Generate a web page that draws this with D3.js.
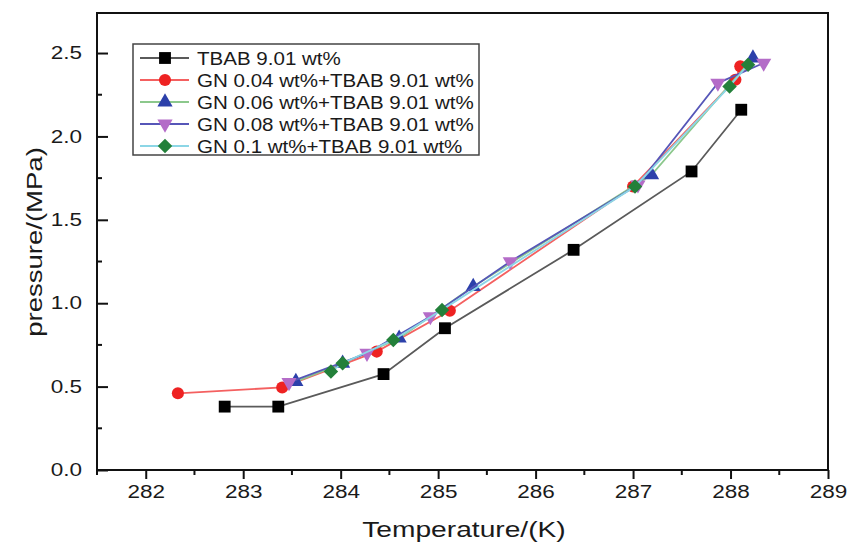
<!DOCTYPE html>
<html><head><meta charset="utf-8">
<script src="https://cdn.jsdelivr.net/npm/d3@7"></script>
<style>body{margin:0;background:#fff}svg{display:block}text{font-family:"Liberation Sans",Arial,sans-serif;fill:#1a1a1a}</style>
</head><body><svg id="c" width="848" height="546"></svg>
<script>
// ---- data ----
const seriesNames = ["TBAB 9.01 wt%","GN 0.04 wt%+TBAB 9.01 wt%","GN 0.06 wt%+TBAB 9.01 wt%","GN 0.08 wt%+TBAB 9.01 wt%","GN 0.1 wt%+TBAB 9.01 wt%"];
const tbabT  = [282.81,283.36,284.44,285.07,286.39,287.60,288.11];
const tbabP  = [0.38,0.38,0.575,0.85,1.32,1.79,2.16];
const gn004T = [282.33,283.40,284.37,285.12,287.00,288.05,288.10];
const gn004P = [0.46,0.495,0.71,0.955,1.70,2.34,2.42];
const gn006T = [283.54,284.02,284.60,285.36,287.19,288.23];
const gn006P = [0.53,0.64,0.79,1.10,1.77,2.47];
const gn008T = [283.47,284.27,284.92,285.74,287.05,287.87,288.34];
const gn008P = [0.525,0.70,0.92,1.25,1.71,2.32,2.44];
const gn01T  = [283.90,284.02,284.54,285.04,287.02,287.99,288.18];
const gn01P  = [0.59,0.64,0.78,0.96,1.70,2.30,2.43];
const xTicks = [282,283,284,285,286,287,288,289];
const yTicks = [0.0,0.5,1.0,1.5,2.0,2.5];
const xLabel = "Temperature/(K)";
const yLabel = "pressure/(MPa)";

// ---- styles ----
const styles = [
  {line:"#5a5a5a", fill:"#000000", shape:"square"},
  {line:"#f46060", fill:"#ee2222", shape:"circle"},
  {line:"#8cc88c", fill:"#2c40aa", shape:"triangle"},
  {line:"#5656b8", fill:"#b46cc8", shape:"triangleDown"},
  {line:"#8cd6e6", fill:"#23803a", shape:"diamond"}
];
const seriesT = [tbabT,gn004T,gn006T,gn008T,gn01T];
const seriesP = [tbabP,gn004P,gn006P,gn008P,gn01P];

const svg = d3.select("#c");
const L=97,R=828,T=13,B=470;
const x = d3.scaleLinear().domain([281.5,289]).range([L,R]);
const y = d3.scaleLinear().domain([0,2.74]).range([B,T]);

function fit(sel,f){sel.each(function(){const l=this.getComputedTextLength();d3.select(this).attr("textLength",l*f).attr("lengthAdjust","spacingAndGlyphs");});}

function symPath(shape){
  if(shape==="square") return {d:d3.symbol(d3.symbolSquare,140)(), rot:0};
  if(shape==="circle") return {d:d3.symbol(d3.symbolCircle,115)(), rot:0};
  if(shape==="triangle") return {d:d3.symbol(d3.symbolTriangle,100)(), rot:0};
  if(shape==="triangleDown") return {d:d3.symbol(d3.symbolTriangle,100)(), rot:180};
  return {d:d3.symbol(d3.symbolSquare,105)(), rot:45};
}

// axes frame
const xAxis = d3.axisBottom(x).tickValues(xTicks).tickFormat(d3.format("d")).tickSize(9).tickPadding(6);
const gx = svg.append("g").attr("transform",`translate(0,${B})`).call(xAxis);
gx.select(".domain").remove();
gx.selectAll(".tick line").attr("stroke","#111").attr("stroke-width",2);
gx.selectAll(".tick text").attr("font-size",18).attr("fill","#1a1a1a").attr("font-family","Liberation Sans").call(fit,1.25);
// minor x
svg.append("g").selectAll("line").data(d3.range(281.5,289,1)).join("line")
  .attr("x1",d=>x(d)).attr("x2",d=>x(d)).attr("y1",B).attr("y2",B+5).attr("stroke","#111").attr("stroke-width",2);

const yAxis = d3.axisLeft(y).tickValues(yTicks).tickFormat(d3.format(".1f")).tickSize(-11).tickPadding(15);
const gy = svg.append("g").attr("transform",`translate(${L},0)`).call(yAxis);
gy.select(".domain").remove();
gy.selectAll(".tick line").attr("stroke","#111").attr("stroke-width",2);
gy.selectAll(".tick text").attr("font-size",18).attr("fill","#1a1a1a").attr("font-family","Liberation Sans").call(fit,1.25);
svg.append("g").selectAll("line").data(d3.range(0.25,2.74,0.5)).join("line")
  .attr("x1",L).attr("x2",L+5).attr("y1",d=>y(d)).attr("y2",d=>y(d)).attr("stroke","#111").attr("stroke-width",2);

svg.append("rect").attr("x",L).attr("y",T).attr("width",R-L).attr("height",B-T)
  .attr("fill","none").attr("stroke","#111").attr("stroke-width",2);

// titles
svg.append("text").attr("x",464).attr("y",537).attr("text-anchor","middle").attr("font-size",22).text(xLabel).call(fit,1.28);
svg.append("text").attr("transform","translate(42,242) rotate(-90)").attr("text-anchor","middle").attr("font-size",21.5).text(yLabel).call(fit,1.28);

// series
const line = d3.line().x(d=>x(d[0])).y(d=>y(d[1]));
seriesT.forEach((ts,i)=>{
  const pts = ts.map((t,j)=>[t,seriesP[i][j]]);
  const st = styles[i];
  svg.append("path").datum(pts).attr("d",line).attr("fill","none").attr("stroke",st.line).attr("stroke-width",1.8);
  const sp = symPath(st.shape);
  svg.append("g").selectAll("path").data(pts).join("path")
    .attr("d",sp.d).attr("transform",d=>`translate(${x(d[0])},${y(d[1])}) rotate(${sp.rot})`)
    .attr("fill",st.fill);
});

// legend
const lg = svg.append("g");
lg.append("rect").attr("x",133).attr("y",44).attr("width",346).attr("height",111).attr("fill","#fff").attr("stroke","#444").attr("stroke-width",1.5);
seriesNames.forEach((n,i)=>{
  const yy = 58 + i*22, st = styles[i], sp = symPath(st.shape);
  lg.append("line").attr("x1",140).attr("x2",189).attr("y1",yy).attr("y2",yy).attr("stroke",st.line).attr("stroke-width",1.8);
  lg.append("path").attr("d",sp.d).attr("transform",`translate(165,${yy}) rotate(${sp.rot})`).attr("fill",st.fill);
  lg.append("text").attr("x",197).attr("y",yy).attr("dy","0.36em").attr("font-size",18.5).text(n).call(fit,1.11);
});
</script></body></html>
